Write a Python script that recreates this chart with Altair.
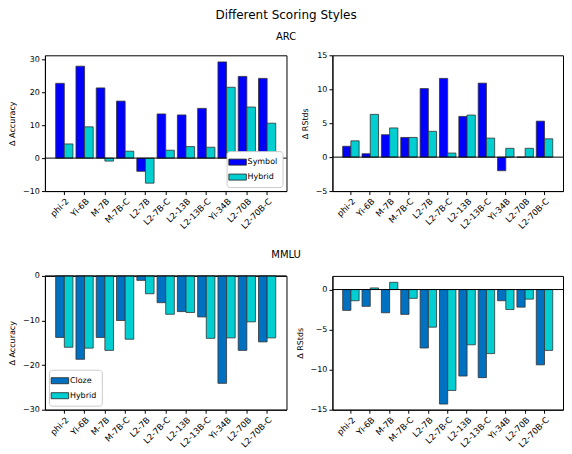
import altair as alt
import pandas as pd

models = ["phi-2", "Yi-6B", "M-7B", "M-7B-C", "L2-7B", "L2-7B-C",
          "L2-13B", "L2-13B-C", "Yi-34B", "L2-70B", "L2-70B-C"]

arc_acc_symbol = [22.7, 27.9, 21.3, 17.3, -4.0, 13.4, 13.1, 15.1, 29.2, 24.8, 24.2]
arc_acc_hybrid = [4.3, 9.5, -0.9, 2.1, -7.6, 2.4, 3.5, 3.3, 21.5, 15.5, 10.6]
arc_rstd_symbol = [1.6, 0.5, 3.3, 2.9, 10.1, 11.6, 6.0, 10.9, -2.0, 0.0, 5.3]
arc_rstd_hybrid = [2.4, 6.3, 4.3, 2.9, 3.8, 0.6, 6.2, 2.8, 1.3, 1.3, 2.7]
mmlu_acc_cloze = [-13.8, -18.7, -13.8, -10.0, -1.0, -6.0, -8.0, -9.2, -24.1, -16.7, -14.8]
mmlu_acc_hybrid = [-16.0, -16.2, -16.7, -14.2, -4.0, -8.6, -8.2, -14.0, -13.9, -10.3, -13.9]
mmlu_rstd_cloze = [-2.6, -2.1, -2.9, -3.1, -7.3, -14.3, -10.8, -11.0, -1.4, -2.2, -9.4]
mmlu_rstd_hybrid = [-1.4, 0.2, 0.9, -1.1, -4.7, -12.6, -6.9, -8.0, -2.5, -1.2, -7.6]

FONT = "DejaVu Sans"
RECT = "M-1.6,-0.55L1.6,-0.55L1.6,0.55L-1.6,0.55Z"


def long_df(a, b, na, nb):
    rows = []
    for m, v in zip(models, a):
        rows.append({"model": m, "style": na, "value": v})
    for m, v in zip(models, b):
        rows.append({"model": m, "style": nb, "value": v})
    return pd.DataFrame(rows)


def panel(a, b, na, nb, ca, ytitle, domain, ticks, w, h, legend_orient=None):
    df = long_df(a, b, na, nb)
    if legend_orient:
        leg = alt.Legend(title=None, orient=legend_orient, symbolType=RECT,
                         symbolSize=120, symbolStrokeColor="#222",
                         symbolStrokeWidth=0.8, labelFont=FONT, labelFontSize=8,
                         fillColor="white", strokeColor="#cccccc", padding=5,
                         cornerRadius=3, offset=4, rowPadding=4,
                         labelColor="black")
    else:
        leg = None
    yscale = alt.Scale(domain=domain, nice=False, zero=False)
    yaxis = alt.Axis(values=ticks, grid=False, labelFont=FONT,
                     labelFontSize=8, labelColor="black",
                     labelOverlap=False, labelSeparation=0,
                     titleFont=FONT, titleFontSize=8,
                     titleFontWeight="normal", titleColor="black",
                     tickColor="black", domainColor="black",
                     tickSize=3.5, titlePadding=6)
    bars = alt.Chart(df).mark_bar(stroke="#333333", strokeWidth=0.8).encode(
        x=alt.X("model:N", sort=models, title=None,
                scale=alt.Scale(paddingInner=0.15, paddingOuter=0.53),
                axis=alt.Axis(labelAngle=-45, labelAlign="right",
                              labelBaseline="top", labelFont=FONT,
                              labelFontSize=8.5, labelColor="black",
                              tickColor="black", domainColor="black",
                              tickSize=3.5, labelPadding=2)),
        xOffset=alt.XOffset("style:N", sort=[na, nb],
                            scale=alt.Scale(paddingInner=0, paddingOuter=0)),
        y=alt.Y("value:Q", title=ytitle, scale=yscale, axis=yaxis),
        color=alt.Color("style:N", sort=[na, nb],
                        scale=alt.Scale(domain=[na, nb], range=[ca, "#00ced1"]),
                        legend=leg),
    )
    zero = alt.Chart(pd.DataFrame({"v": [0]})).mark_rule(
        color="black", strokeWidth=1).encode(
        y=alt.Y("v:Q", title=ytitle, scale=yscale, axis=yaxis))
    return alt.layer(bars, zero).properties(width=w, height=h)


tl = panel(arc_acc_symbol, arc_acc_hybrid, "Symbol", "Hybrid", "#0000ff",
           "Δ Accuracy", [-10, 31.2], [-10, 0, 10, 20, 30], 242, 136, "bottom-right")
tr = panel(arc_rstd_symbol, arc_rstd_hybrid, "Symbol", "Hybrid", "#0000ff",
           "Δ RStds", [-5, 15], [-5, 0, 5, 10, 15], 231, 136)
bl = panel(mmlu_acc_cloze, mmlu_acc_hybrid, "Cloze", "Hybrid", "#0070c0",
           "Δ Accuracy", [-30, 0], [-30, -20, -10, 0], 242, 134, "bottom-left")
br = panel(mmlu_rstd_cloze, mmlu_rstd_hybrid, "Cloze", "Hybrid", "#0070c0",
           "Δ RStds", [-15, 1.7], [-15, -10, -5, 0], 231, 134)

ind = dict(color="independent", xOffset="independent", x="independent",
           y="independent")

top = alt.hconcat(tl, tr, spacing=13).resolve_scale(**ind).properties(
    title=alt.TitleParams("ARC", anchor="middle", font=FONT, fontSize=10,
                          fontWeight="normal", color="black", offset=9))
bottom = alt.hconcat(bl, br, spacing=8).resolve_scale(**ind).properties(
    title=alt.TitleParams("MMLU", anchor="middle", font=FONT, fontSize=10,
                          fontWeight="normal", color="black", offset=11))

chart = alt.vconcat(top, bottom, spacing=19).resolve_scale(**ind).properties(
    title=alt.TitleParams("Different Scoring Styles", anchor="middle", font=FONT,
                          fontSize=12, fontWeight="normal", color="black",
                          offset=10),
    padding={"left": 0, "top": 0, "right": 0, "bottom": 0},
).configure_view(stroke="black", strokeWidth=1).configure_axisY(labelOverlap=False)

chart.save("out.html", embed_options={"renderer": "svg", "actions": False})
